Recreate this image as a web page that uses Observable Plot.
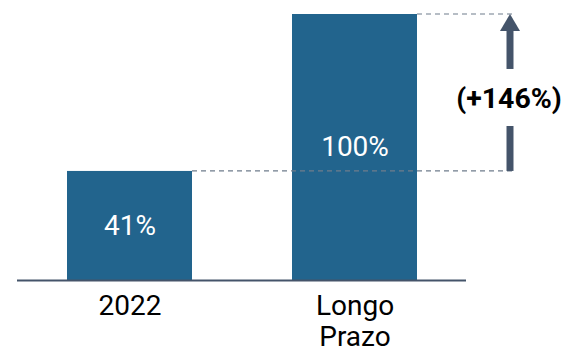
<!DOCTYPE html>
<html><head><meta charset="utf-8">
<script src="https://cdn.jsdelivr.net/npm/d3@7"></script>
<script src="https://cdn.jsdelivr.net/npm/@observablehq/plot@0.6"></script>
<style>body{margin:0;background:#fff;} svg{display:block;}</style>
</head><body><div id="chart"></div>
<script>
const categories = ["2022", "Longo Prazo"];
const values = [41, 100];
const valueLabels = ["41%", "100%"];
const tickLabels = ["2022", "Longo\nPrazo"];
const changeLabel = "(+146%)";

const data = categories.map((c, i) => ({cat: c, value: values[i], label: valueLabels[i]}));

const barColor = "#22648d";
const axisColor = "#44546a";
const dashColor = "#6f7c8c";
const font = "Roboto, 'Noto Sans', sans-serif";

// annotation layout (offsets relative to the right edge of the last bar)
const dashExtend = 98;
const arrowInset = 5;

function annotation(index, scales, channels, dimensions) {
  const {x, y} = scales;
  const g = d3.create("svg:g");
  const lastRight = x(categories[categories.length - 1]) + x.bandwidth();
  const lineEnd = lastRight + dashExtend;
  const ax = lineEnd - arrowInset;
  data.forEach(d => {
    g.append("line")
      .attr("x1", x(d.cat) + x.bandwidth()).attr("x2", lineEnd)
      .attr("y1", y(d.value)).attr("y2", y(d.value))
      .attr("stroke", dashColor).attr("stroke-width", 1.2)
      .attr("stroke-dasharray", "5,4");
  });
  const yLow = y(values[0]), yHigh = y(values[1]);
  const ty = (yLow + yHigh) / 2 + 5;
  const headH = 17, headW = 20, shaftW = 7, gap = 28.5;
  g.append("line").attr("x1", ax).attr("x2", ax).attr("y1", yLow).attr("y2", ty + gap)
    .attr("stroke", axisColor).attr("stroke-width", shaftW);
  g.append("line").attr("x1", ax).attr("x2", ax).attr("y1", ty - gap).attr("y2", yHigh + headH - 1)
    .attr("stroke", axisColor).attr("stroke-width", shaftW);
  g.append("path")
    .attr("d", `M${ax},${yHigh}L${ax - headW / 2},${yHigh + headH}L${ax + headW / 2},${yHigh + headH}Z`)
    .attr("fill", axisColor);
  g.append("text").attr("x", ax - 1).attr("y", ty).attr("dy", "0.36em")
    .attr("text-anchor", "middle").attr("font-weight", "bold").attr("font-size", 28.5)
    .attr("font-family", font).attr("fill", "#000").text(changeLabel);
  return g.node();
}

const chart = Plot.plot({
  width: 561,
  height: 348,
  marginLeft: 17,
  marginRight: 95,
  marginTop: 14,
  marginBottom: 68,
  style: {fontFamily: font, background: "#fff", color: "#000", overflow: "visible"},
  x: {domain: categories, paddingInner: 0.446, paddingOuter: 0, insetLeft: 50, insetRight: 49, axis: null, label: null},
  y: {domain: [0, 100], axis: null},
  marks: [
    Plot.barY(data, {x: "cat", y: "value", fill: barColor}),
    Plot.text(data, {x: "cat", y: d => d.value / 2, text: "label", fill: "#fff", fontSize: 28}),
    Plot.ruleY([0], {stroke: axisColor, strokeWidth: 2}),
    Plot.axisX({tickSize: 0, tickPadding: 13, fontSize: 28, lineHeight: 1.1, label: null,
      tickFormat: d => tickLabels[categories.indexOf(d)]}),
    annotation
  ]
});
document.getElementById("chart").appendChild(chart);
</script>
</body></html>
